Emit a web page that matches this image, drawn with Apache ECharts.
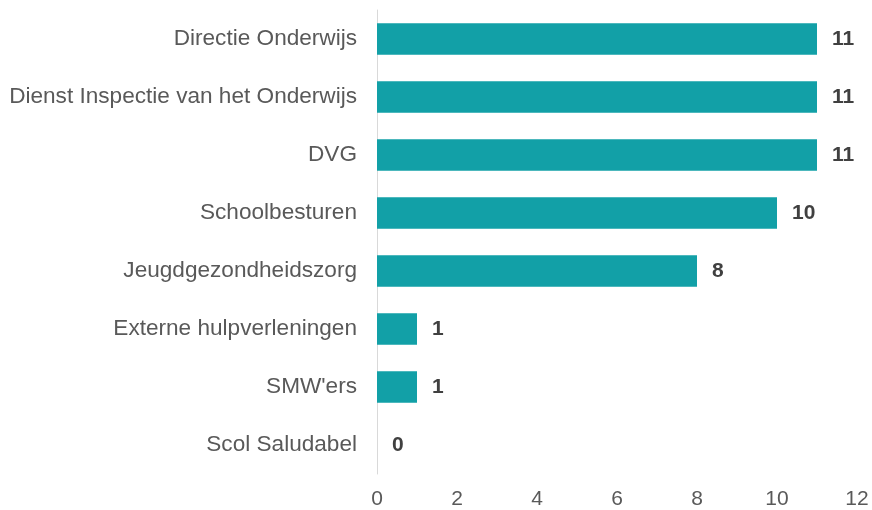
<!DOCTYPE html>
<html><head><meta charset="utf-8">
<script src="https://cdn.jsdelivr.net/npm/echarts@6/dist/echarts.min.js"></script>
<style>html,body{margin:0;padding:0;background:#fff}#c{width:872px;height:510px}</style>
</head><body><div id="c"></div>
<script>
const categories = ["Directie Onderwijs","Dienst Inspectie van het Onderwijs","DVG","Schoolbesturen","Jeugdgezondheidszorg","Externe hulpverleningen","SMW'ers","Scol Saludabel"];
const values = [11,11,11,10,8,1,1,0];
const xTicks = [0,2,4,6,8,10,12];
const chart = echarts.init(document.getElementById('c'));
chart.setOption({
  animation:false,
  grid:{left:377,right:15,top:10,bottom:36,containLabel:false},
  xAxis:{type:'value',min:0,max:12,interval:2,
    axisLine:{show:false},axisTick:{show:false},splitLine:{show:false},
    axisLabel:{color:'#595959',fontFamily:'Liberation Sans, Arial',fontSize:21,margin:15,
      formatter:v=>xTicks.includes(v)?String(v):''}},
  yAxis:{type:'category',data:categories.slice().reverse(),
    axisLine:{show:true,lineStyle:{color:'#d9d9d9',width:1}},axisTick:{show:false},
    axisLabel:{color:'#595959',fontFamily:'Liberation Sans, Arial',fontSize:22.6,margin:20,padding:[3,0,0,0]}},
  series:[{type:'bar',data:values.slice().reverse(),barCategoryGap:'46%',
    itemStyle:{color:'#12a0a7'},
    label:{show:true,position:'right',distance:15,color:'#404040',fontFamily:'Liberation Sans, Arial',fontSize:21,fontWeight:'bold',padding:[3,0,0,0]}}]
});
</script></body></html>
